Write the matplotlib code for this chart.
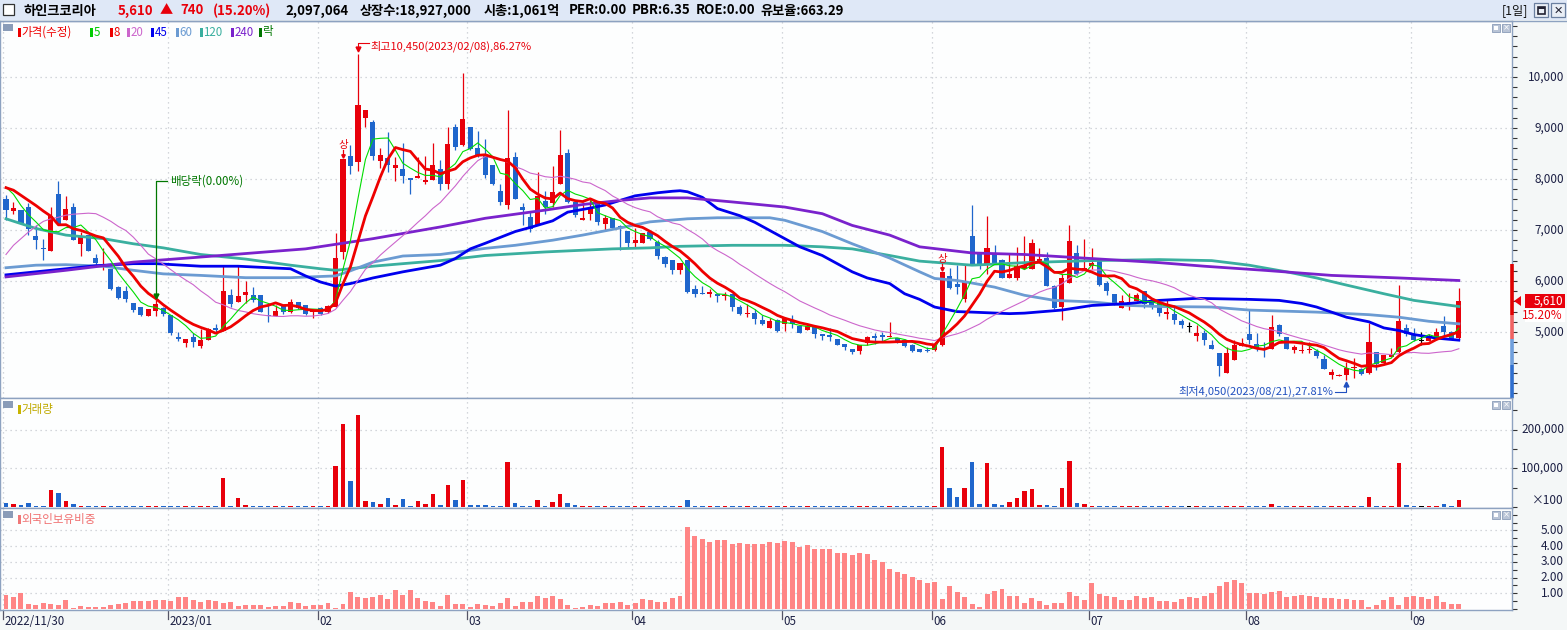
import numpy as np
import pandas as pd
import matplotlib
matplotlib.use('Agg')
import matplotlib.pyplot as plt
from matplotlib.patches import Rectangle, Polygon
from matplotlib.ticker import MultipleLocator, FixedLocator

plt.rcParams['font.family'] = ['Noto Sans CJK KR', 'DejaVu Sans']

W, H = 1567, 630

# ---------------- data ----------------
opens = [7600, 7370, 7400, 7450, 6880, 6650, 6580, 7710, 7190, 7460,
         6720, 6900, 6450, 6290, 6230, 5880, 5810, 5560, 5500, 5310,
         5410, 5470, 5330, 4890, 4790, 4900, 4730, 4840, 5070, 5020,
         5730, 5580, 5720, 5730, 5730, 5340, 5310, 5520, 5390, 5590,
         5520, 5390, 5470, 5390, 5500, 6570, 8450, 8330, 9200, 9120,
         8350, 8420, 8220, 8200, 8010, 8010, 7950, 7990, 8190, 7910,
         9020, 8670, 9020, 8610, 8480, 8270, 7760, 7500, 8430, 7450,
         7250, 7090, 7570, 7520, 7900, 8510, 7550, 7200, 7310, 7550,
         7120, 7240, 7080, 6990, 6740, 6740, 6960, 6770, 6470, 6420,
         6210, 6420, 5850, 5770, 5740, 5750, 5700, 5750, 5500, 5350,
         5380, 5230, 5080, 5230, 5150, 5240, 5120, 5030, 5100, 4970,
         4930, 4860, 4770, 4670, 4620, 4790, 4900, 4930, 4900, 4880,
         4840, 4740, 4660, 4640, 4640, 4740, 6100, 5950, 5640, 6880,
         6520, 6310, 6520, 6420, 6050, 6060, 6240, 6230, 6380, 6460,
         5910, 5490, 5960, 6540, 6220, 6290, 6420, 5960, 5750, 5470,
         5540, 5610, 5800, 5590, 5590, 5360, 5360, 5220, 5090, 4930,
         4990, 4740, 4580, 4200, 4460, 4730, 4970, 4770, 4690, 4670,
         5130, 4900, 4640, 4630, 4640, 4630, 4480, 4150, 4130, 4150,
         4290, 4280, 4200, 4610, 4400, 4510, 4610, 5080, 4970, 4820,
         4820, 4890, 5110, 5000, 4880]
highs = [7680, 7550, 7400, 7530, 7090, 6830, 7450, 7960, 7660, 7520,
         6960, 6900, 6530, 6640, 6240, 5900, 5910, 5560, 5500, 5450,
         5620, 5490, 5340, 5000, 4870, 4980, 5060, 5080, 5160, 6300,
         5850, 6310, 6000, 5880, 5730, 5540, 5520, 5520, 5650, 5590,
         5520, 5440, 5490, 5520, 6950, 8400, 8670, 10450, 9350, 9160,
         8610, 8920, 8430, 8710, 8010, 8430, 8450, 8710, 8370, 9020,
         9080, 10070, 9020, 8950, 8790, 8270, 7910, 9350, 8520, 7530,
         7380, 8140, 7760, 8250, 8970, 8580, 7580, 7550, 7590, 7560,
         7290, 7240, 7090, 6990, 7040, 6940, 6960, 6800, 6490, 6420,
         6360, 6420, 5930, 5900, 5850, 5750, 5780, 5750, 5520, 5540,
         5460, 5340, 5270, 5260, 5290, 5330, 5140, 5180, 5130, 4970,
         5080, 4870, 4770, 4670, 4750, 4930, 4990, 5000, 5200, 4880,
         4870, 4770, 4670, 4700, 4770, 6170, 6250, 6320, 6310, 7500,
         6570, 7270, 6710, 6440, 6520, 6670, 6880, 6830, 6650, 6570,
         5930, 6140, 7090, 6710, 6820, 6650, 6440, 6000, 5750, 5730,
         5770, 5770, 5800, 5640, 5590, 5650, 5520, 5260, 5200, 5130,
         5030, 4840, 4580, 4710, 4840, 4890, 5460, 4990, 4800, 5340,
         5150, 4900, 4740, 4770, 4800, 4670, 4540, 4270, 4180, 4420,
         4490, 4290, 5180, 4610, 4540, 4690, 5920, 5160, 5070, 5000,
         4970, 5080, 5320, 5010, 5870]
lows = [7200, 7310, 7110, 6900, 6630, 6420, 6580, 7090, 7190, 6800,
        6500, 6590, 6320, 6210, 5820, 5650, 5590, 5400, 5310, 5310,
        5320, 5310, 4950, 4820, 4710, 4710, 4680, 4840, 5000, 5020,
        5490, 5580, 5560, 5590, 5390, 5200, 5310, 5360, 5380, 5460,
        5340, 5280, 5330, 5380, 5490, 6440, 8100, 8150, 9020, 8370,
        8220, 8140, 7970, 7930, 7700, 8010, 7910, 7990, 7780, 7810,
        8560, 8650, 8560, 8430, 8020, 7880, 7500, 7410, 7610, 7090,
        6960, 7090, 7320, 7450, 7900, 7520, 7260, 7190, 7190, 7100,
        6990, 7010, 6600, 6650, 6650, 6740, 6800, 6440, 6270, 6130,
        6140, 5760, 5690, 5740, 5690, 5590, 5620, 5420, 5340, 5290,
        5160, 5130, 5070, 5000, 5020, 5080, 4990, 5030, 4880, 4840,
        4820, 4740, 4640, 4560, 4560, 4750, 4770, 4800, 4900, 4790,
        4710, 4610, 4600, 4600, 4630, 4730, 5850, 5750, 5590, 6310,
        6230, 6140, 6340, 6050, 6050, 6010, 6240, 6230, 6380, 5900,
        5460, 5240, 5960, 6110, 6220, 6240, 5900, 5730, 5520, 5470,
        5440, 5610, 5480, 5450, 5310, 5260, 5160, 5080, 5000, 4820,
        4750, 4660, 4130, 4200, 4460, 4730, 4760, 4630, 4510, 4670,
        4930, 4660, 4590, 4590, 4590, 4490, 4270, 4070, 4130, 4050,
        4100, 4150, 4180, 4260, 4380, 4510, 4570, 4920, 4820, 4750,
        4820, 4840, 4930, 4870, 4870]
closes = [7400, 7440, 7140, 7010, 6800, 6630, 7280, 7110, 7420, 6800,
          6880, 6590, 6350, 6330, 5840, 5670, 5650, 5440, 5330, 5450,
          5540, 5350, 4990, 4870, 4870, 4800, 4850, 5050, 5030, 5800,
          5540, 5700, 5780, 5620, 5400, 5310, 5420, 5390, 5590, 5470,
          5360, 5440, 5350, 5510, 6460, 8400, 8250, 9460, 9350, 8450,
          8480, 8280, 8270, 8060, 7980, 8050, 7990, 8280, 7910, 8690,
          8630, 9170, 8590, 8460, 8070, 7900, 7550, 8420, 7610, 7390,
          7020, 7670, 7460, 7750, 8480, 7540, 7300, 7240, 7460, 7160,
          7240, 7030, 7040, 6740, 6800, 6940, 6830, 6500, 6340, 6210,
          6360, 5780, 5740, 5740, 5780, 5700, 5720, 5490, 5360, 5380,
          5260, 5160, 5220, 5020, 5270, 5150, 4990, 5120, 4970, 4920,
          4910, 4750, 4700, 4610, 4740, 4900, 4890, 4910, 4930, 4800,
          4730, 4630, 4610, 4620, 4750, 6170, 5860, 5880, 6000, 6310,
          6320, 6650, 6340, 6050, 6130, 6290, 6310, 6750, 6440, 5910,
          5470, 6060, 6780, 6130, 6250, 6360, 5920, 5800, 5520, 5610,
          5590, 5720, 5540, 5520, 5370, 5400, 5230, 5130, 5090, 4990,
          4840, 4660, 4330, 4580, 4750, 4790, 4840, 4660, 4660, 5100,
          4970, 4660, 4710, 4650, 4660, 4530, 4270, 4220, 4160, 4290,
          4310, 4180, 4800, 4380, 4540, 4540, 5220, 4970, 4840, 4820,
          4890, 5000, 5000, 4870, 5610]

# volume, in thousands of the displayed (x100) unit
volume_k = [11.4, 8.8, 6.1, 11.4, 3.5, 3, 43.9, 35.0, 16.7, 8.8,
            3.5, 3, 3, 3, 3.5, 3, 3, 3, 3, 3,
            3, 3, 3, 3, 3, 3, 3, 3, 3, 75.4,
            3.5, 22.8, 6.1, 3, 3, 3, 3, 3, 3, 3,
            3, 3, 3, 3, 106.0, 214.0, 66.7, 237.7, 16.7, 14.0,
            8.8, 22.8, 6.1, 20.2, 3.5, 16.7, 8.8, 32.4, 6.1, 56.1,
            19.3, 69.3, 6.1, 6.1, 6.1, 3.5, 3.5, 116.6, 11.4, 3.5,
            3, 19.3, 3.5, 14.0, 32.4, 11.4, 6.1, 3.5, 3.5, 3,
            3, 3, 3, 3, 3, 3, 3, 3, 3, 3,
            3, 19.3, 3, 3, 3, 3, 3, 3, 3, 3,
            3, 3, 3, 3, 3, 3, 3, 3, 3, 3,
            3, 3, 3, 3, 3, 3, 3, 3, 3, 3,
            3, 3, 3, 3, 3, 156.0, 49.0, 27.0, 49.0, 116.6,
            8.8, 114.0, 8.8, 6.1, 14.0, 22.8, 40.3, 45.6, 6.1, 6.1,
            3.5, 49.0, 119.0, 11.4, 8.8, 3.5, 3.5, 3, 3, 3,
            3, 3, 3, 3, 3, 3, 3, 3, 3, 3,
            3, 3, 3, 3, 3, 3, 3.5, 3, 3, 8.8,
            3, 3, 3, 3, 3, 3, 3, 3, 3, 3,
            3, 3, 24.6, 3, 3, 3, 114.0, 6.1, 3.5, 3,
            3, 3, 8.8, 3, 19.3]

# foreign ownership ratio (%)
foreign_pct = [0.91, 0.76, 1.02, 0.32, 0.25, 0.38, 0.32, 0.25, 0.57, 0.06,
               0.19, 0.13, 0.13, 0.13, 0.25, 0.32, 0.38, 0.51, 0.51, 0.53,
               0.57, 0.57, 0.51, 0.76, 0.76, 0.57, 0.45, 0.57, 0.51, 0.38,
               0.45, 0.19, 0.25, 0.25, 0.25, 0.11, 0.19, 0.19, 0.45, 0.38,
               0.19, 0.25, 0.25, 0.38, 0.06, 0.32, 1.08, 0.76, 0.70, 0.76,
               0.89, 0.64, 1.21, 0.89, 1.21, 0.70, 0.51, 0.45, 0.19, 0.89,
               0.32, 0.32, 0.13, 0.32, 0.25, 0.19, 0.38, 0.70, 0.19, 0.45,
               0.45, 0.83, 0.70, 0.83, 0.64, 0.25, 0.06, 0.13, 0.25, 0.19,
               0.38, 0.38, 0.45, 0.25, 0.38, 0.64, 0.57, 0.45, 0.45, 0.70,
               0.83, 5.22, 4.65, 4.46, 4.27, 4.39, 4.39, 4.15, 4.20, 4.16,
               4.14, 4.16, 4.27, 4.23, 4.33, 4.27, 3.97, 4.10, 3.82, 3.82,
               3.82, 3.57, 3.57, 3.46, 3.57, 3.52, 3.14, 3.01, 2.53, 2.36,
               2.23, 2.04, 1.85, 1.68, 1.72, 0.64, 1.46, 1.10, 0.79, 0.32,
               0.13, 0.96, 1.17, 1.27, 0.83, 0.83, 0.38, 0.70, 0.51, 0.25,
               0.38, 0.38, 1.10, 0.83, 0.57, 1.66, 0.96, 0.83, 0.76, 0.59,
               0.59, 0.83, 0.70, 0.76, 0.51, 0.51, 0.45, 0.64, 0.76, 0.70,
               0.83, 1.02, 1.46, 1.72, 1.85, 1.68, 1.02, 1.02, 0.96, 1.08,
               1.15, 0.76, 0.83, 0.89, 0.83, 0.76, 0.70, 0.70, 0.64, 0.64,
               0.57, 0.57, 0.13, 0.28, 0.57, 0.76, 0.25, 0.76, 0.83, 0.76,
               0.64, 0.83, 0.45, 0.32, 0.32]

ma5_head = [7840, 7700, 7480, 7300]
ma8_head = [7830, 7780, 7680, 7580, 7480, 7370, 7270]
ma20_head = [6520, 6700, 6830, 6960, 7070, 7170, 7220, 7250, 7290, 7310,
             7320, 7330, 7320, 7250, 7170, 7070, 6990, 6860, 6700]

# long moving averages read at sample candles
ma45_idx = [0, 8, 12, 17, 20, 26, 31, 38, 40, 42, 44, 46, 49, 53, 58, 60, 62, 64,
            68, 70, 73, 75, 78, 80, 82, 84, 87, 89, 90, 91, 93, 95, 98, 100, 102,
            104, 106, 109, 111, 113, 115, 118, 120, 122, 124, 127, 129, 134, 136,
            141, 145, 150, 152, 154, 159, 166, 170, 173, 175, 177, 179, 182, 184,
            186, 188, 191, 194]
ma45_val = [6120, 6240, 6300, 6340, 6340, 6290, 6290, 6240, 6100, 5980, 5900, 5950,
            6060, 6180, 6310, 6440, 6630, 6740, 6970, 7050, 7180, 7350, 7430, 7490,
            7580, 7670, 7730, 7760, 7770, 7750, 7640, 7420, 7280, 7150, 6990, 6830,
            6670, 6500, 6340, 6180, 6060, 5950, 5750, 5640, 5490, 5400, 5390, 5360,
            5370, 5430, 5520, 5560, 5590, 5620, 5660, 5640, 5620, 5560, 5490, 5390,
            5290, 5200, 5080, 5030, 4950, 4880, 4840]
ma60_idx = [0, 4, 8, 13, 17, 21, 26, 32, 38, 44, 46, 49, 53, 58, 62, 64, 68, 73,
            77, 82, 86, 91, 95, 102, 104, 109, 113, 118, 122, 124, 127, 129, 132,
            136, 140, 145, 150, 154, 161, 166, 175, 182, 186, 190, 194]
ma60_val = [6260, 6310, 6320, 6290, 6210, 6140, 6110, 6065, 6065, 6100, 6200, 6370,
            6490, 6520, 6600, 6640, 6700, 6800, 6900, 7040, 7160, 7220, 7240, 7240,
            7190, 6970, 6730, 6450, 6180, 6050, 6010, 5960, 5880, 5720, 5620, 5590,
            5520, 5500, 5490, 5430, 5390, 5340, 5290, 5210, 5160]
ma120_idx = [0, 4, 8, 13, 17, 21, 26, 32, 38, 42, 44, 49, 53, 58, 64, 72, 81, 86,
             90, 97, 104, 109, 113, 118, 122, 129, 136, 145, 154, 161, 166, 171,
             175, 179, 184, 188, 194]
ma120_val = [7220, 7030, 6900, 6830, 6730, 6650, 6520, 6430, 6310, 6240, 6210, 6290,
             6340, 6400, 6500, 6570, 6630, 6650, 6680, 6700, 6700, 6670, 6630, 6500,
             6390, 6310, 6360, 6400, 6420, 6400, 6310, 6180, 6060, 5920, 5750, 5620,
             5500]
ma240_idx = [0, 8, 17, 26, 33, 40, 49, 58, 64, 72, 77, 82, 86, 91, 97, 104, 109,
             113, 118, 122, 129, 136, 145, 154, 160, 168, 177, 186, 194]
ma240_val = [6080, 6210, 6370, 6470, 6550, 6630, 6830, 7060, 7230, 7390, 7500, 7580,
             7630, 7630, 7550, 7450, 7320, 7090, 6900, 6670, 6550, 6520, 6440, 6360,
             6290, 6210, 6110, 6060, 6010]

month_idx = [0, 22, 42, 62, 84, 104, 124, 145, 166, 188]
month_labels = ['2022/11/30', '2023/01', '02', '03', '04', '05', '06', '07', '08', '09']
limit_idx = [45, 125]          # upper-limit days (상)
exdiv_idx = 20                 # 배당락 day
price_ticks = [5000, 6000, 7000, 8000, 9000, 10000]
vol_ticks_k = [100, 200]
foreign_ticks = [1, 2, 3, 4, 5]
# colour bands on the price scale (upper limit / prev close levels)
band_levels = [6330, 5330, 4870, 4350, 3706]
band_colors = ['#e00000', '#f06262', '#6f9fdc', '#2f6fcf']

RED = '#e8000b'
BLUE = '#1f66cc'
FRAME = '#8da2c0'
GRID = '#c6cad0'
LABEL = '#1c2044'

# ---------------- figure ----------------
fig = plt.figure(figsize=(W / 100, H / 100), dpi=100, facecolor='#f4f7f7')


def px_rect(x0, y0, x1, y1):
    return [x0 / W, 1 - y1 / H, (x1 - x0) / W, (y1 - y0) / H]


ax_p = fig.add_axes(px_rect(0, 21, 1512, 398))
ax_v = fig.add_axes(px_rect(0, 398, 1512, 508))
ax_f = fig.add_axes(px_rect(0, 508, 1512, 610))

n = len(closes)
x = np.arange(n)
o = np.array(opens); h = np.array(highs); l = np.array(lows); c = np.array(closes)
colors = np.where(c > o, RED, np.where(c < o, BLUE, '#000000'))

s = pd.Series(c, dtype=float)
ma5 = s.rolling(5).mean().to_numpy(); ma5[:4] = ma5_head
ma8 = s.rolling(8).mean().to_numpy(); ma8[:7] = ma8_head
ma20 = s.rolling(20).mean().to_numpy(); ma20[:19] = ma20_head

XL = (-0.8, 201.1)
grid_x = [k - 0.4 for k in month_idx]
for ax in (ax_p, ax_v, ax_f):
    ax.set_xlim(*XL)
    ax.set_facecolor('#fdfefe')
    for sp in ax.spines.values():
        sp.set_color(FRAME)
        sp.set_linewidth(1)
    ax.set_xticks(grid_x)
    ax.grid(True, axis='both', linestyle=(0, (1, 3)), color=GRID, lw=0.9)
    ax.set_axisbelow(True)
    ax.yaxis.tick_right()
    ax.tick_params(axis='y', which='both', direction='out', length=3.5, width=0.8,
                   colors='#333333', labelright=False, labelleft=False)
    ax.tick_params(axis='x', length=0, labelbottom=False)

# ---- price panel ----
ax_p.set_ylim(3706, 11098)
ax_p.yaxis.set_major_locator(FixedLocator(price_ticks))
ax_p.yaxis.set_minor_locator(MultipleLocator(200))
ax_p.vlines(x, l, h, colors=colors, lw=0.9, zorder=2)
ax_p.bar(x, np.maximum(np.abs(c - o), 25), bottom=np.minimum(o, c), width=0.68,
         color=colors, lw=0, zorder=3)

ax_p.plot(ma120_idx, ma120_val, color='#3aaf9f', lw=2.0, zorder=4)
ax_p.plot(ma60_idx, ma60_val, color='#6b9bd2', lw=2.0, zorder=4)
ax_p.plot(ma45_idx, ma45_val, color='#0000ee', lw=2.0, zorder=4)
ax_p.plot(ma240_idx, ma240_val, color='#7a22cc', lw=2.0, zorder=4)
ax_p.plot(x, ma20, color='#cc66cc', lw=0.8, zorder=5)
ax_p.plot(x, ma5, color='#00dd00', lw=0.8, zorder=5)
ax_p.plot(x, ma8, color='#ee0000', lw=2.0, zorder=6)

ytr = ax_p.get_yaxis_transform()
for v in price_ticks:
    ax_p.text(1564 / 1512, v, f'{v:,}', transform=ytr, ha='right', va='center',
              fontsize=8.5, color=LABEL, clip_on=False)
for top, bot, col in zip(band_levels[:-1], band_levels[1:], band_colors):
    ax_p.plot([1.0, 1.0], [top, bot], transform=ytr, color=col, lw=2.6,
              clip_on=False, solid_capstyle='butt', zorder=7)

# highest / lowest annotations
hi_i = int(np.argmax(h)); hi_v = h[hi_i]
ax_p.plot([hi_i + 1.5, hi_i, hi_i], [hi_v + 217, hi_v + 217, hi_v + 100],
          color=RED, lw=0.8, zorder=8)
ax_p.plot(hi_i, hi_v + 90, marker='v', ms=3.5, color=RED, zorder=8)
ax_p.text(hi_i + 1.7, hi_v + 158, '최고10,450(2023/02/08),86.27%', color=RED,
          fontsize=8, ha='left', va='center', zorder=8)

lo_i = int(np.argmin(l)); lo_v = l[lo_i]
ax_p.plot([lo_i - 1.5, lo_i, lo_i], [lo_v - 225, lo_v - 225, lo_v - 80],
          color='#2050c0', lw=0.8, zorder=8)
ax_p.plot(lo_i, lo_v - 70, marker='^', ms=3.5, color='#2050c0', zorder=8)
ax_p.text(lo_i - 1.8, lo_v - 207, '최저4,050(2023/08/21),27.81%', color='#2050c0',
          fontsize=8, ha='right', va='center', zorder=8)

# ex-dividend marker
GREEN_D = '#007700'
ax_p.plot([exdiv_idx + 1.5, exdiv_idx, exdiv_idx], [7961, 7961, h[exdiv_idx] + 100],
          color=GREEN_D, lw=0.9, zorder=8)
ax_p.plot(exdiv_idx, h[exdiv_idx] + 80, marker='v', ms=3.5, color=GREEN_D, zorder=8)
ax_p.text(exdiv_idx + 1.9, 7961, '배당락(0.00%)', color=GREEN_D, fontsize=8.3,
          ha='left', va='center', zorder=8)

# upper-limit markers
for k in limit_idx:
    ax_p.text(k, h[k] + 270, '상', color=RED, fontsize=7.5, ha='center', va='center',
              zorder=8)
    ax_p.plot([k, k], [h[k] + 170, h[k] + 70], color=RED, lw=0.9, zorder=8)
    ax_p.plot(k, h[k] + 60, marker='v', ms=2.5, color=RED, zorder=8)

# ---- volume panel ----
ax_v.set_ylim(-2.6, 281.6)
ax_v.yaxis.set_major_locator(FixedLocator(vol_ticks_k))
ax_v.yaxis.set_minor_locator(MultipleLocator(50))
ax_v.bar(x, volume_k, width=0.6, color=colors, lw=0, zorder=3)
vtr = ax_v.get_yaxis_transform()
for v in vol_ticks_k:
    ax_v.text(1564 / 1512, v, f'{v * 1000:,}', transform=vtr, ha='right', va='center',
              fontsize=8.5, color=LABEL, clip_on=False)
ax_v.text(1564 / 1512, 18, '×100', transform=vtr, ha='right', va='center',
          fontsize=8.5, color=LABEL, clip_on=False)

# ---- foreign ownership panel ----
ax_f.set_ylim(-0.064, 6.43)
ax_f.yaxis.set_major_locator(FixedLocator(foreign_ticks))
ax_f.yaxis.set_minor_locator(MultipleLocator(0.5))
ax_f.bar(x, foreign_pct, width=0.66, color='#ff8585', lw=0, zorder=3)
ftr = ax_f.get_yaxis_transform()
for v in foreign_ticks:
    ax_f.text(1564 / 1512, v, f'{v:.2f}', transform=ftr, ha='right', va='center',
              fontsize=8.5, color=LABEL, clip_on=False)

xtr = ax_f.get_xaxis_transform()
for gx, lab in zip(grid_x, month_labels):
    ax_f.plot([gx, gx], [-0.01, -0.09], transform=xtr, color='#556',
              lw=0.9, clip_on=False)
    ax_f.text(gx + 0.2, -0.115, lab, transform=xtr, ha='left', va='center',
              fontsize=8.3, color=LABEL, clip_on=False)

# ---------------- decorations in pixel space ----------------
ov = fig.add_axes([0, 0, 1, 1])
ov.set_xlim(0, W); ov.set_ylim(H, 0); ov.axis('off'); ov.set_zorder(20)

ov.add_patch(Rectangle((0, 0), W, 20, fc='#dfe8f7', ec='none'))
ov.plot([0, W], [20.5, 20.5], color=FRAME, lw=1)
ov.add_patch(Rectangle((3, 4), 11, 11, fc='white', ec='#333333', lw=0.9))
hdr = [(23, '하인크코리아', '#000000'), (118, '5,610', RED), (160, '▲', RED),
       (180, '740', RED), (213, '(15.20%)', RED), (285, '2,097,064', '#000000'),
       (360, '상장수:18,927,000', '#000000'), (484, '시총:1,061억', '#000000'),
       (569, 'PER:0.00', '#000000'), (632, 'PBR:6.35', '#000000'),
       (696, 'ROE:0.00', '#000000'), (760, '유보율:663.29', '#000000')]
for px, txt, col in hdr:
    ov.text(px, 10.5, txt, color=col, fontsize=9.5, fontweight='bold',
            ha='left', va='center')
ov.text(1502, 10.5, '[1일]', color='#111111', fontsize=8.8, ha='left', va='center')
ov.add_patch(Rectangle((1534, 3), 14, 14, fc='#e9eef6', ec='#6a7fa0', lw=0.9))
ov.add_patch(Rectangle((1537.5, 6.5), 7, 7, fc='none', ec='#222233', lw=1.2))
ov.add_patch(Rectangle((1537.5, 6.5), 7, 2, fc='#222233', ec='none'))
ov.add_patch(Rectangle((1551, 3), 14, 14, fc='#e9eef6', ec='#6a7fa0', lw=0.9))
ov.text(1558, 10.5, '✕', color='#222233', fontsize=8, fontweight='bold',
        ha='center', va='center', family='DejaVu Sans')

# panel icons and buttons
for ytop in (24, 401, 511):
    ov.add_patch(Rectangle((3, ytop), 10, 7, fc='#8a9cb8', ec='none'))
    for bx in (1492, 1502):
        ov.add_patch(Rectangle((bx, ytop), 8, 8, fc='#b9c4d6', ec='#8a9cb8', lw=0.6))
    ov.add_patch(Rectangle((1494, ytop + 2), 4, 4, fc='white', ec='none'))
    ov.text(1506, ytop + 4.2, '×', color='white', fontsize=6, ha='center',
            va='center', family='DejaVu Sans')

# legend
legend_items = [(18, '가격(수정)', '#ee0000'), (90, '5', '#00cc00'), (110, '8', '#ee0000'),
                (127, '20', '#cc66cc'), (151, '45', '#0000ee'), (176, '60', '#6b9bd2'),
                (200, '120', '#3aaf9f'), (231, '240', '#7a22cc'), (259, '락', '#007700')]
for px, txt, col in legend_items:
    ov.add_patch(Rectangle((px, 27.5), 2.5, 9, fc=col, ec='none'))
    ov.text(px + 3.5, 32, txt, color=col, fontsize=8.3, ha='left', va='center')

ov.add_patch(Rectangle((18, 405), 2.5, 9, fc='#c8b400', ec='none'))
ov.text(21.5, 409.5, '거래량', color='#c0aa00', fontsize=8.3, ha='left', va='center')
ov.add_patch(Rectangle((18, 515), 2.5, 9, fc='#f07878', ec='none'))
ov.text(21.5, 519.5, '외국인보유비중', color='#f07070', fontsize=8.3, ha='left',
        va='center')

# current price tag
ov.add_patch(Polygon([(1514, 301), (1521, 296), (1521, 306)], closed=True, fc=RED, ec='none'))
ov.add_patch(Rectangle((1525, 294), 40, 14, fc=RED, ec='none'))
ov.text(1563, 301, '5,610', color='white', fontsize=8.5, ha='right', va='center')
ov.add_patch(Rectangle((1525, 309), 40, 13, fc='white', ec='none'))
ov.text(1563, 315.5, '15.20%', color=RED, fontsize=8.5, ha='right', va='center')

fig.savefig('out.png', dpi=100, facecolor=fig.get_facecolor())
